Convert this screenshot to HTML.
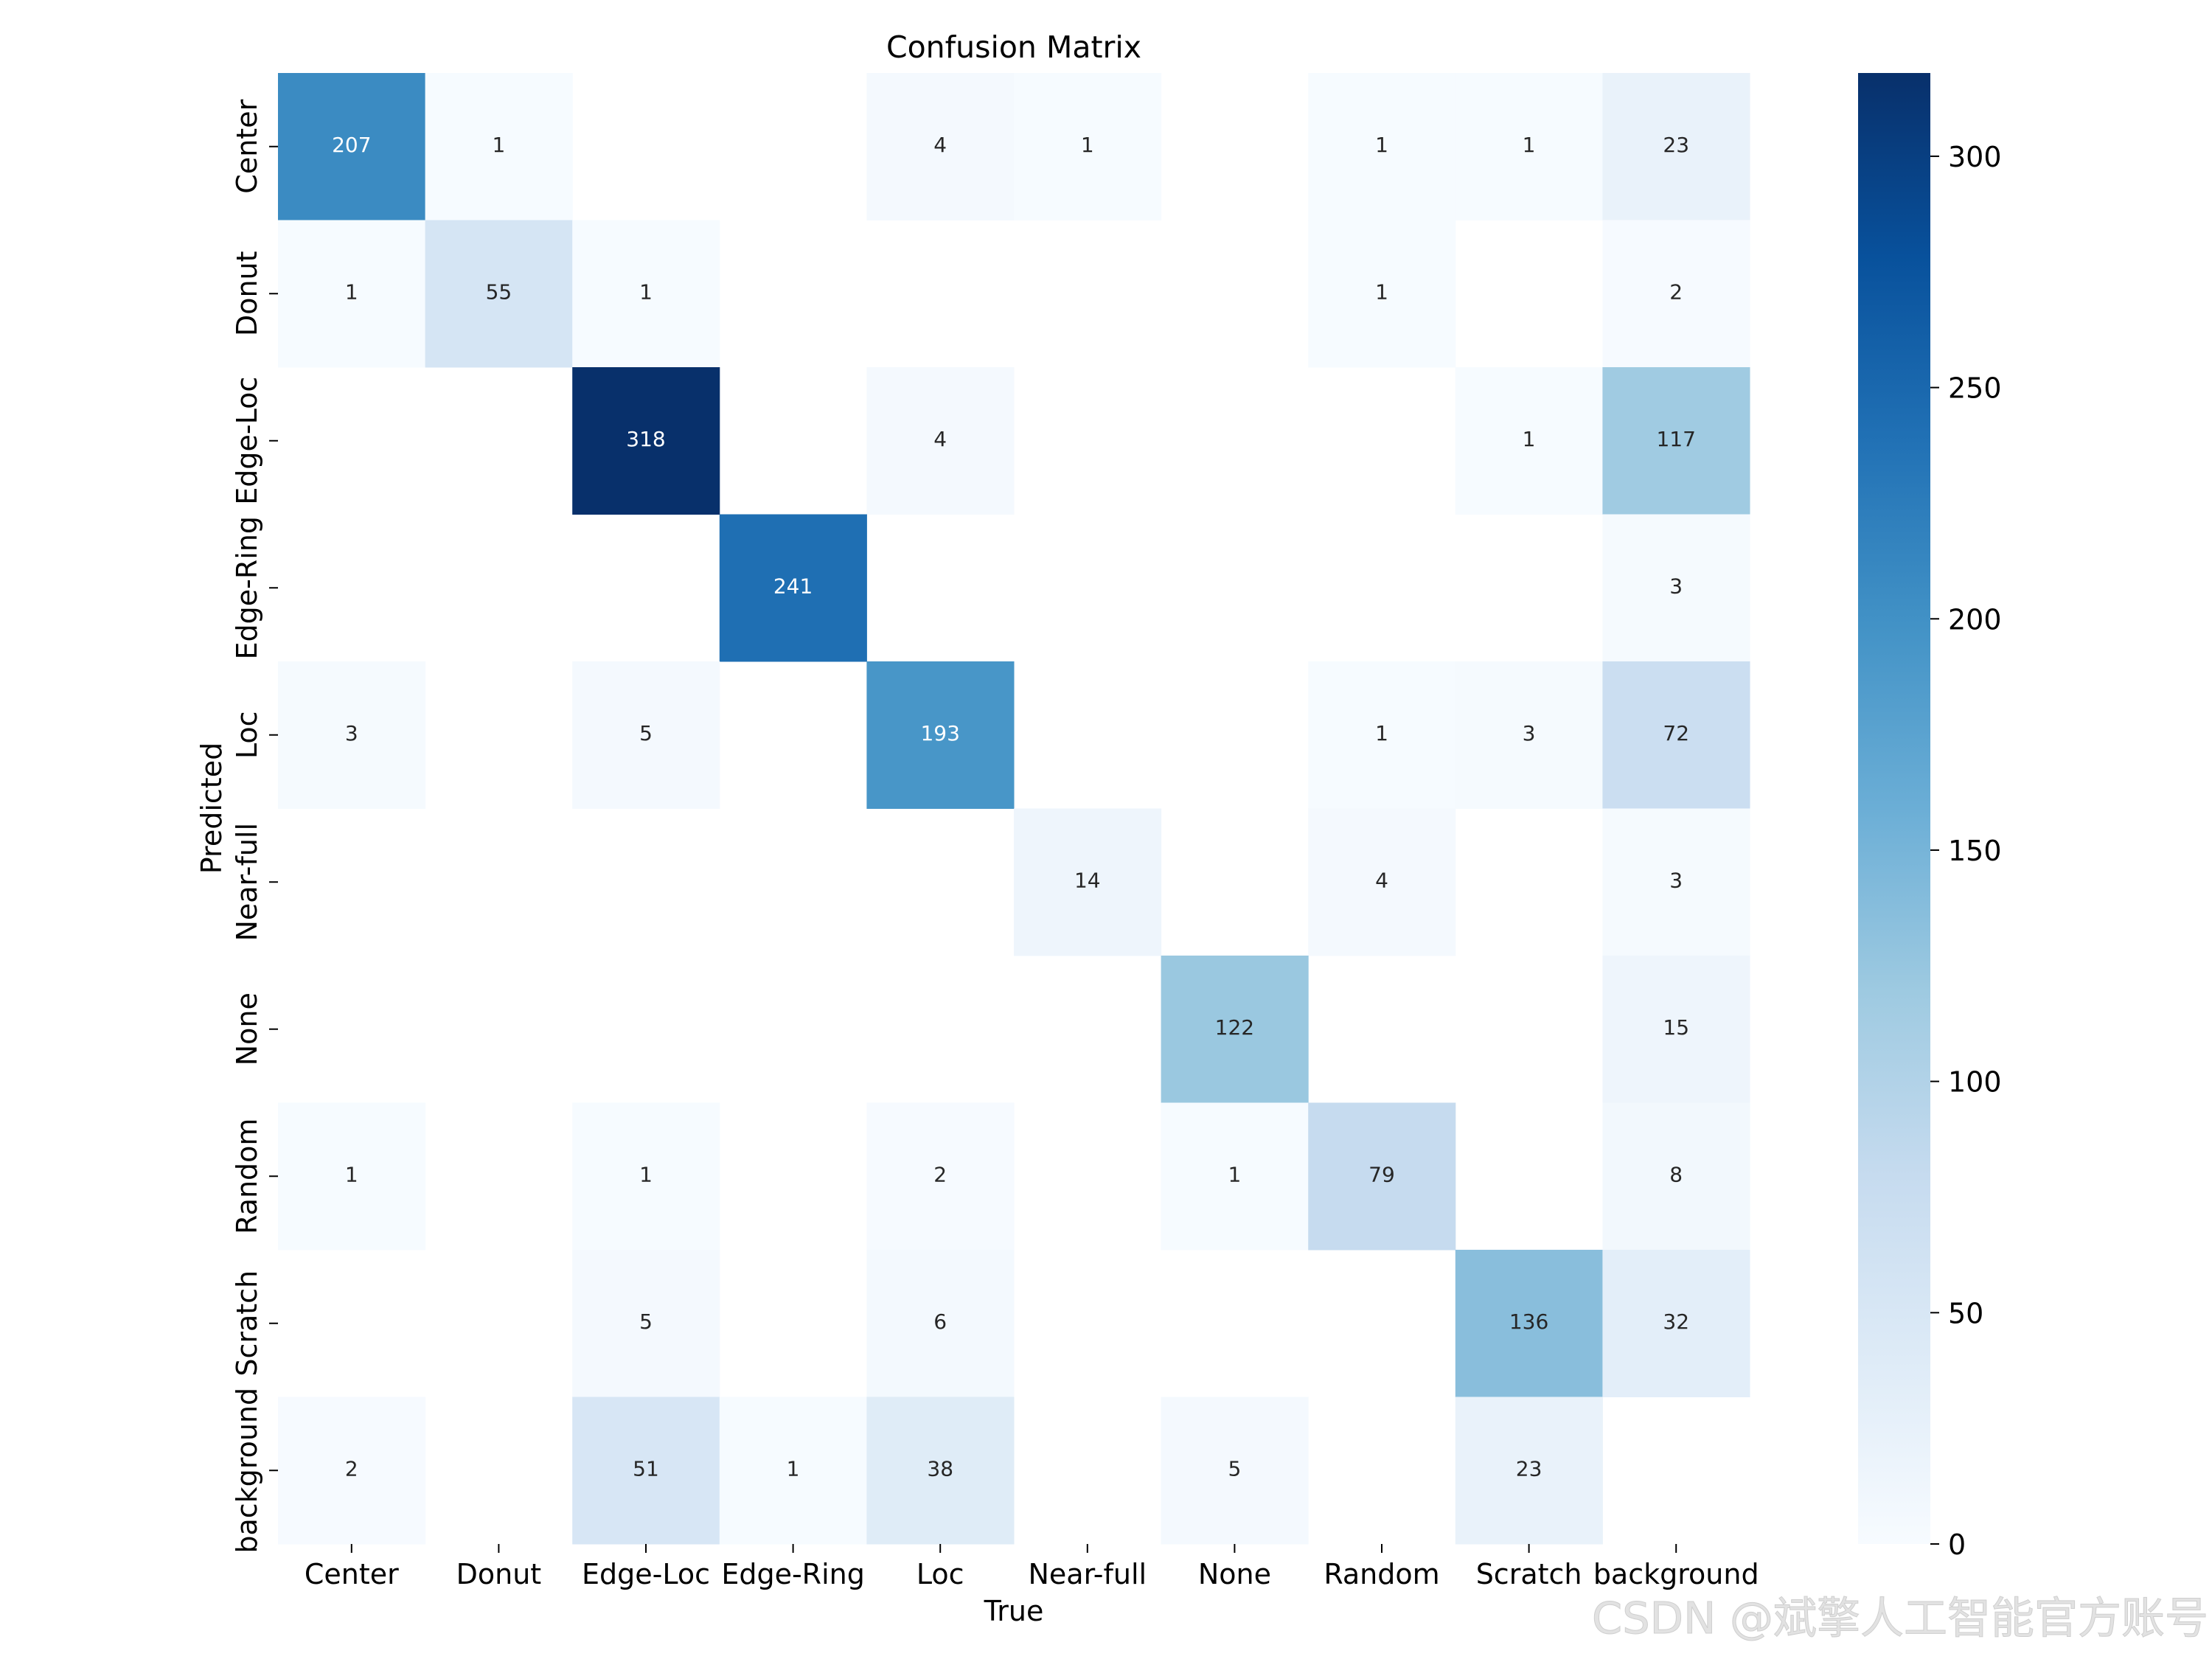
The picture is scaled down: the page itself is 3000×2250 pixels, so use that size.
<!DOCTYPE html>
<html><head><meta charset="utf-8"><style>
html,body{margin:0;padding:0;background:#fff}
svg{display:block}
text{font-family:"DejaVu Sans","Liberation Sans",sans-serif}
</style></head><body>
<svg id="chart" width="3000" height="2250" viewBox="0 0 3000 2250">
<defs>
<linearGradient id="cbgrad" x1="0" y1="1" x2="0" y2="0">
<stop offset="0" stop-color="#f7fbff"/><stop offset="0.125" stop-color="#deebf7"/><stop offset="0.25" stop-color="#c6dbef"/><stop offset="0.375" stop-color="#9ecae1"/><stop offset="0.5" stop-color="#6baed6"/><stop offset="0.625" stop-color="#4292c6"/><stop offset="0.75" stop-color="#2171b5"/><stop offset="0.875" stop-color="#08519c"/><stop offset="1" stop-color="#08306b"/>
</linearGradient>
</defs>
<text x="1375" y="78" font-size="41" text-anchor="middle" fill="#000">Confusion Matrix</text>
<g id="cells"></g>
<g id="xticks"></g>
<g id="yticks"></g>
<text x="1375" y="2198" font-size="38" text-anchor="middle" fill="#000">True</text>
<text x="0" y="0" font-size="38" text-anchor="middle" fill="#000" transform="translate(300,1096) rotate(-90)">Predicted</text>
<rect x="2520" y="99" width="98" height="1995" fill="url(#cbgrad)"/>
<g id="cbticks"></g>
<text x="2995" y="2215" font-size="59" text-anchor="end" fill="#e2e2e2" stroke="#cfcfcf" stroke-width="1" font-family="Liberation Sans, Noto Sans CJK SC, sans-serif">CSDN @斌擎人工智能官方账号</text>
</svg>
<script>
const categories = ["Center","Donut","Edge-Loc","Edge-Ring","Loc","Near-full","None","Random","Scratch","background"];
const rowCenter = [207,1,0,0,4,1,0,1,1,23];
const rowDonut = [1,55,1,0,0,0,0,1,0,2];
const rowEdgeLoc = [0,0,318,0,4,0,0,0,1,117];
const rowEdgeRing = [0,0,0,241,0,0,0,0,0,3];
const rowLoc = [3,0,5,0,193,0,0,1,3,72];
const rowNearFull = [0,0,0,0,0,14,0,4,0,3];
const rowNone = [0,0,0,0,0,0,122,0,0,15];
const rowRandom = [1,0,1,0,2,0,1,79,0,8];
const rowScratch = [0,0,5,0,6,0,0,0,136,32];
const rowBackground = [2,0,51,1,38,0,5,0,23,0];
const matrix = [rowCenter,rowDonut,rowEdgeLoc,rowEdgeRing,rowLoc,rowNearFull,rowNone,rowRandom,rowScratch,rowBackground];
const cbTicks = [0,50,100,150,200,250,300];

const NS="http://www.w3.org/2000/svg";
const X0=377,Y0=99,W=1996,H=1995;
let vmax=0; matrix.forEach(r=>r.forEach(v=>{if(v>vmax)vmax=v;}));
const n=categories.length, cw=W/n, ch=H/n;
const xPos=i=>X0+i*cw, yPos=j=>Y0+j*ch;
const stops=[[247,251,255],[222,235,247],[198,219,239],[158,202,225],[107,174,214],[66,146,198],[33,113,181],[8,81,156],[8,48,107]];
function cmap(t){t=Math.max(0,Math.min(1,t));const p=t*8,i=Math.min(7,Math.floor(p)),f=p-i;
 return stops[i].map((c,k)=>Math.round(c+(stops[i+1][k]-c)*f));}
function lum(c){const l=c.map(v=>{v/=255;return v<=0.03928?v/12.92:Math.pow((v+0.055)/1.055,2.4);});return 0.2126*l[0]+0.7152*l[1]+0.0722*l[2];}
function mk(tag,attrs,parent){const e=document.createElementNS(NS,tag);for(const k in attrs)e.setAttribute(k,attrs[k]);parent.appendChild(e);return e;}
const cells=document.getElementById('cells');
matrix.forEach((row,j)=>row.forEach((v,i)=>{
 if(v===0)return;
 const c=cmap(v/vmax);
 const r=mk('rect',{x:xPos(i),y:yPos(j),width:cw+0.5,height:ch+0.5,fill:`rgb(${c[0]},${c[1]},${c[2]})`},cells);
 
 
 const t=mk('text',{x:xPos(i)+cw/2,y:yPos(j)+ch/2+7,'font-size':28,'text-anchor':'middle',fill:lum(c)>0.408?'#262626':'#ffffff'},cells);
 t.textContent=v;
 
 
}));
const xt=document.getElementById('xticks'), yt=document.getElementById('yticks');
categories.forEach((c,i)=>{
 const x=xPos(i)+cw/2;
 mk('line',{x1:x,x2:x,y1:Y0+H,y2:Y0+H+12,stroke:'#000','stroke-width':2},xt);
 const t=mk('text',{x:x,y:2148,'font-size':38,'text-anchor':'middle',fill:'#000'},xt);
 t.textContent=c;
 
 
 const y=yPos(i)+ch/2;
 mk('line',{x1:X0-12,x2:X0,y1:y,y2:y,stroke:'#000','stroke-width':2},yt);
 const u=mk('text',{x:0,y:0,'font-size':38,'text-anchor':'middle',fill:'#000',transform:`translate(348,${y}) rotate(-90)`},yt);
 u.textContent=c;
 
 
});
const cb=document.getElementById('cbticks');
cbTicks.forEach(v=>{
 const y=99+1995*(1-v/vmax);
 mk('line',{x1:2618,x2:2630,y1:y,y2:y,stroke:'#000','stroke-width':2},cb);
 const t=mk('text',{x:2642,y:y+14,'font-size':38,fill:'#000'},cb);
 t.textContent=v;
 
 
});
</script>
</body></html>
